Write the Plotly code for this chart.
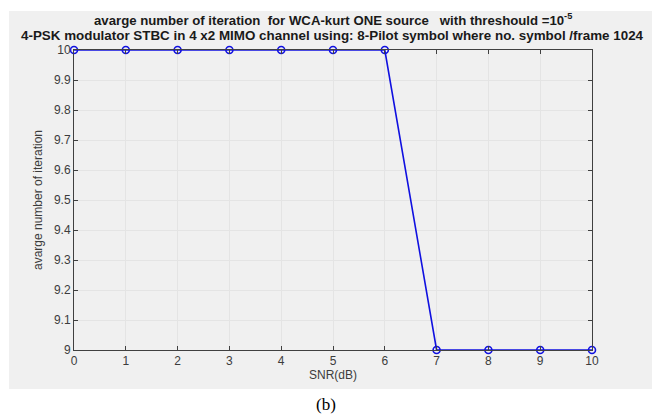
import plotly.graph_objects as go

# SNR sweep and the average iteration count measured at each point
snr_db = [0, 1, 2, 3, 4, 5, 6, 7, 8, 9, 10]
avg_iterations = [10, 10, 10, 10, 10, 10, 10, 9, 9, 9, 9]

x_ticks = [0, 1, 2, 3, 4, 5, 6, 7, 8, 9, 10]
y_ticks = [9, 9.1, 9.2, 9.3, 9.4, 9.5, 9.6, 9.7, 9.8, 9.9, 10]
y_tick_text = ["9", "9.1", "9.2", "9.3", "9.4", "9.5", "9.6", "9.7", "9.8", "9.9", "10"]

W, H = 652, 419
ML, MR, MT, MB = 74, 60, 50, 69
PW = W - ML - MR
PH = H - MT - MB


def px_x(px):
    return (px - ML) / PW


def px_y(py):
    return (H - MB - py) / PH


fig = go.Figure()
fig.add_trace(go.Scatter(
    x=snr_db, y=avg_iterations,
    mode="lines+markers",
    line=dict(color="#1010e0", width=1.6),
    marker=dict(symbol="circle-open", size=7, color="#1010e0", line=dict(width=1.6)),
    cliponaxis=False,
    showlegend=False,
))

axis_font = dict(family="Liberation Sans, Arial, sans-serif", size=12, color="#3c3c3c")

fig.update_layout(
    width=W, height=H,
    margin=dict(l=ML, r=MR, t=MT, b=MB),
    paper_bgcolor="white",
    plot_bgcolor="white",
    font=axis_font,
    xaxis=dict(
        range=[0, 10], tickmode="array", tickvals=x_ticks,
        ticks="inside", ticklen=4, tickcolor="#404040",
        showgrid=True, gridcolor="#e4e4e4", gridwidth=1,
        showline=True, linecolor="#404040", linewidth=1, mirror="ticks",
        zeroline=False, tickfont=axis_font,
        title=dict(text="SNR(dB)", font=axis_font, standoff=3),
    ),
    yaxis=dict(
        range=[9, 10], tickmode="array", tickvals=y_ticks, ticktext=y_tick_text,
        ticks="inside", ticklen=4, tickcolor="#404040",
        showgrid=True, gridcolor="#e4e4e4", gridwidth=1,
        showline=True, linecolor="#404040", linewidth=1, mirror="ticks",
        zeroline=False, tickfont=axis_font,
        title=dict(text="avarge number of iteration", font=axis_font, standoff=8),
    ),
)

# grey figure panel behind the axes
fig.add_shape(type="rect", xref="paper", yref="paper",
              x0=px_x(9), x1=px_x(652), y0=px_y(389), y1=px_y(11),
              fillcolor="#f0f0f0", line=dict(width=0), layer="below")

title1 = ("<b>avarge number of iteration&nbsp; for WCA-kurt ONE source&nbsp;&nbsp; "
          "with threshould =10<sup>-5</sup></b>")
title2 = "<b>4-PSK modulator STBC in 4 x2 MIMO channel using: 8-Pilot symbol where no. symbol /frame 1024</b>"
fig.add_annotation(xref="paper", yref="paper", x=px_x(333), y=px_y(20),
                   text=title1, showarrow=False,
                   font=dict(family="Liberation Sans, Arial, sans-serif", size=13.2, color="#1a1a1a"),
                   xanchor="center", yanchor="middle")
fig.add_annotation(xref="paper", yref="paper", x=px_x(332), y=px_y(35.5),
                   text=title2, showarrow=False,
                   font=dict(family="Liberation Sans, Arial, sans-serif", size=13.4, color="#1a1a1a"),
                   xanchor="center", yanchor="middle")
fig.add_annotation(xref="paper", yref="paper", x=px_x(326), y=px_y(404),
                   text="(b)", showarrow=False,
                   font=dict(family="Liberation Serif, Times New Roman, serif", size=17, color="#000000"),
                   xanchor="center", yanchor="middle")

fig.write_html("out.html")
